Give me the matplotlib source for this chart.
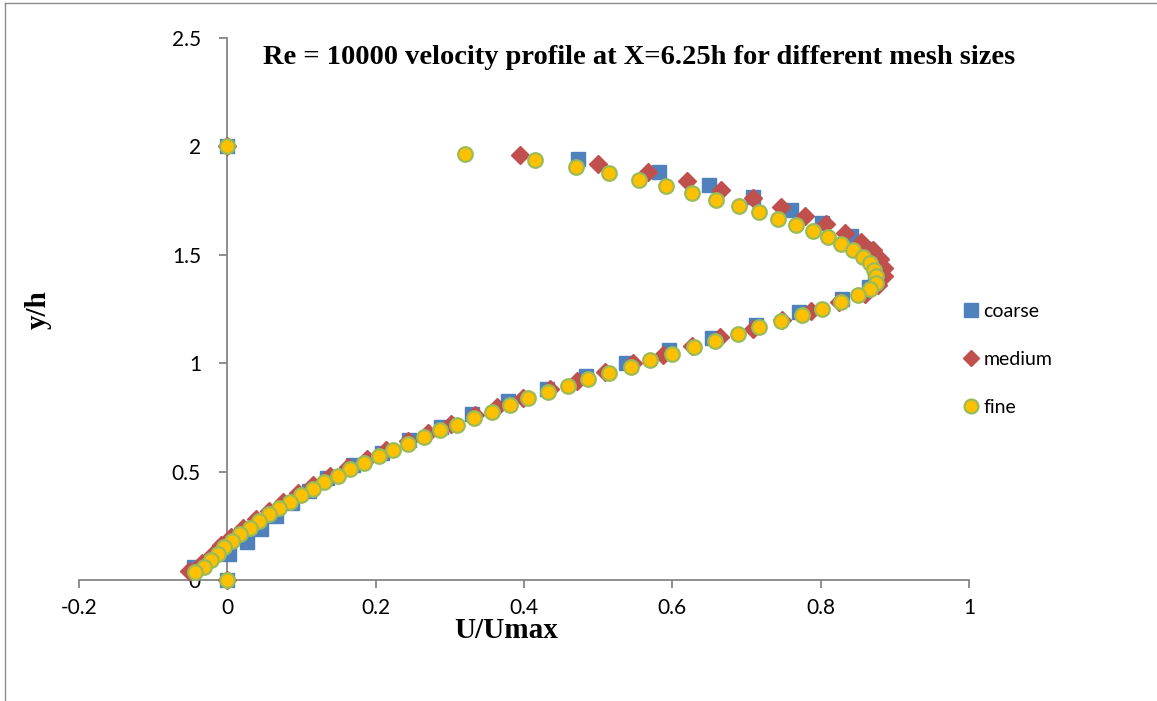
import matplotlib
matplotlib.use("Agg")
import matplotlib.pyplot as plt
from matplotlib.lines import Line2D

# ---------------- data ----------------
fine_x = [0.0, 0.320, 0.415, 0.470, 0.515, 0.555, 0.592, 0.627, 0.659, 0.690, 0.717,
          0.743, 0.767, 0.790, 0.810, 0.828, 0.844, 0.857, 0.867, 0.872, 0.875,
          0.874, 0.867, 0.851, 0.828, 0.802, 0.775, 0.747, 0.717, 0.688, 0.658,
          0.629, 0.600, 0.570, 0.544, 0.514, 0.486, 0.459, 0.432, 0.406, 0.381,
          0.357, 0.332, 0.309, 0.287, 0.265, 0.244, 0.223, 0.204, 0.184, 0.166,
          0.149, 0.131, 0.115, 0.099, 0.084, 0.070, 0.056, 0.043, 0.030, 0.017,
          0.006, -0.004, -0.013, -0.022, -0.031, -0.043, 0.0]
fine_y = [2.0, 1.966, 1.936, 1.905, 1.877, 1.847, 1.816, 1.785, 1.755, 1.727, 1.697,
          1.666, 1.637, 1.609, 1.582, 1.551, 1.520, 1.490, 1.462, 1.432, 1.402,
          1.372, 1.343, 1.313, 1.281, 1.252, 1.222, 1.195, 1.165, 1.134, 1.103,
          1.073, 1.042, 1.016, 0.984, 0.955, 0.927, 0.897, 0.866, 0.838, 0.808,
          0.777, 0.748, 0.717, 0.690, 0.659, 0.629, 0.600, 0.570, 0.539, 0.510,
          0.480, 0.451, 0.422, 0.391, 0.360, 0.330, 0.303, 0.271, 0.240, 0.211,
          0.181, 0.150, 0.120, 0.092, 0.061, 0.038, 0.0]

medium_x = [0.0, 0.394, 0.500, 0.567, 0.620, 0.666, 0.709, 0.746, 0.779, 0.807, 0.833,
            0.855, 0.871, 0.880, 0.885, 0.885, 0.877, 0.860, 0.825, 0.787, 0.748,
            0.709, 0.664, 0.627, 0.587, 0.547, 0.509, 0.471, 0.435, 0.399, 0.363,
            0.334, 0.302, 0.271, 0.243, 0.214, 0.188, 0.163, 0.139, 0.116, 0.095,
            0.075, 0.056, 0.038, 0.021, 0.005, -0.008, -0.020, -0.034, -0.052, 0.0]
medium_y = [2.0, 1.96, 1.92, 1.88, 1.84, 1.80, 1.76, 1.72, 1.68, 1.64, 1.60,
            1.56, 1.52, 1.48, 1.44, 1.40, 1.36, 1.32, 1.28, 1.24, 1.20,
            1.16, 1.12, 1.08, 1.04, 1.00, 0.96, 0.92, 0.88, 0.84, 0.80,
            0.76, 0.72, 0.68, 0.64, 0.60, 0.56, 0.52, 0.48, 0.44, 0.40,
            0.36, 0.32, 0.28, 0.24, 0.20, 0.16, 0.12, 0.08, 0.04, 0.0]

coarse_x = [0.0, 0.473, 0.582, 0.650, 0.709, 0.760, 0.802, 0.841, 0.862, 0.872, 0.873,
            0.865, 0.829, 0.771, 0.713, 0.654, 0.595, 0.538, 0.483, 0.431, 0.379,
            0.330, 0.288, 0.245, 0.208, 0.170, 0.134, 0.110, 0.087, 0.065, 0.045,
            0.027, 0.002, -0.045, 0.0]
coarse_y = [2.0, 1.941, 1.882, 1.824, 1.765, 1.706, 1.647, 1.588, 1.529, 1.471, 1.412,
            1.353, 1.294, 1.235, 1.176, 1.118, 1.059, 1.000, 0.941, 0.882, 0.824,
            0.765, 0.706, 0.647, 0.588, 0.529, 0.471, 0.412, 0.353, 0.294, 0.235,
            0.176, 0.118, 0.059, 0.0]

x_ticks = [-0.2, 0, 0.2, 0.4, 0.6, 0.8, 1]
x_tick_labels = ["-0.2", "0", "0.2", "0.4", "0.6", "0.8", "1"]
y_ticks = [0, 0.5, 1, 1.5, 2, 2.5]
y_tick_labels = ["0", "0.5", "1", "1.5", "2", "2.5"]

title = "Re = 10000 velocity profile at X=6.25h for different mesh sizes"
series_names = ["coarse", "medium", "fine"]

# ---------------- figure ----------------
W, H = 1157, 701
fig = plt.figure(figsize=(W / 100, H / 100), dpi=100)
fig.patch.set_facecolor("white")
# chart-area border (left and top edges visible)
fig.add_artist(Line2D([5 / W, 5 / W], [0, 1 - 3 / H], transform=fig.transFigure,
                      color="#8c8c8c", linewidth=1.0))
fig.add_artist(Line2D([5 / W, 1], [1 - 3 / H, 1 - 3 / H], transform=fig.transFigure,
                      color="#8c8c8c", linewidth=1.0))

ax = fig.add_axes([79 / W, 1 - 580 / H, (969 - 79) / W, (580 - 38) / H])
ax.set_xlim(-0.2, 1.0)
ax.set_ylim(0, 2.5)

ax.spines["top"].set_visible(False)
ax.spines["right"].set_visible(False)
ax.spines["left"].set_position(("data", 0))
ax.spines["bottom"].set_position(("data", 0))
for s in ("left", "bottom"):
    ax.spines[s].set_color("#868686")
    ax.spines[s].set_linewidth(1.3)

tick_font = dict(family="Lato", size=15)
ax.set_xticks(x_ticks)
ax.set_xticklabels(x_tick_labels, fontdict=tick_font)
ax.set_yticks(y_ticks)
ax.set_yticklabels(y_tick_labels, fontdict=tick_font)
ax.tick_params(axis="both", direction="out", length=6, width=1.3, color="#868686",
               labelcolor="black")
ax.tick_params(axis="x", pad=7)
ax.tick_params(axis="y", pad=13)

ax.plot(coarse_x, coarse_y, linestyle="none", marker="s", markersize=10,
        markerfacecolor="#4F81BD", markeredgecolor="#4F81BD", label=series_names[0],
        clip_on=False, zorder=3)
ax.plot(medium_x, medium_y, linestyle="none", marker="D", markersize=9,
        markerfacecolor="#C0504D", markeredgecolor="#C0504D", label=series_names[1],
        clip_on=False, zorder=4)
ax.plot(fine_x, fine_y, linestyle="none", marker="o", markersize=10.5,
        markerfacecolor="#FFC000", markeredgecolor="#9BBB59", markeredgewidth=1.6,
        label=series_names[2], clip_on=False, zorder=5)

fig.text(639 / W, 1 - 58 / H, title, ha="center", va="center", family="Liberation Serif",
         fontweight="bold", fontsize=20.5)
ax.set_xlabel("U/Umax", family="Liberation Serif", fontweight="bold", fontsize=21)
ax.xaxis.set_label_coords((506 - 79) / (969 - 79), -(617 - 580) / (580 - 38))
ax.set_ylabel("y/h", family="Liberation Serif", fontweight="bold", fontsize=21)
ax.yaxis.set_label_coords((52 - 79) / (969 - 79), (580 - 310) / (580 - 38))

leg = ax.legend(loc="upper left", bbox_to_anchor=(953 / W, 1 - 293 / H),
                bbox_transform=fig.transFigure, frameon=False,
                prop=dict(family="Lato", size=14), handlelength=0.8,
                handletextpad=0.25, labelspacing=1.6, borderpad=0, markerscale=0.95)

fig.savefig("out.png", dpi=100)
